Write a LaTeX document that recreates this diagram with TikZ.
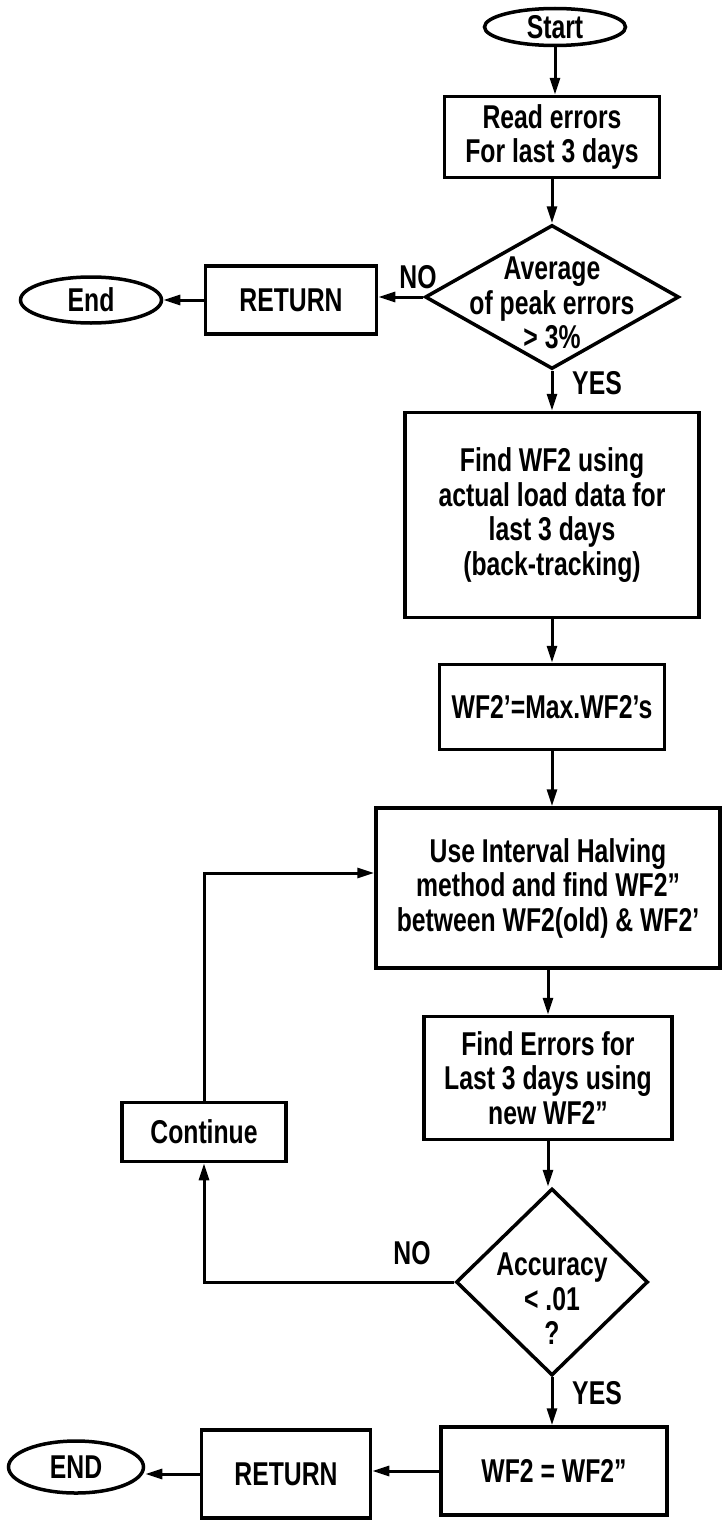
\documentclass[tikz,border=0pt]{standalone}
\usepackage{fontspec}
\setmainfont{Liberation Sans}[FakeStretch=0.75]
\usetikzlibrary{shapes.geometric,arrows.meta,calc}
\begin{document}
\begin{tikzpicture}[x=1pt,y=-1pt,
  lbl/.style={font=\fontsize{33}{34.5}\selectfont\bfseries, align=center, inner sep=0pt},
  pbox/.style={lbl, draw, rectangle, line width=3.5pt},
  term/.style={lbl, draw, ellipse, line width=3.5pt},
  dia/.style={draw, diamond, line width=3.5pt, inner sep=0pt},
  arr/.style={line width=3pt, -{Triangle[length=17pt,width=10pt]}},
  ln/.style={line width=3pt}]
\useasboundingbox (0,0) rectangle (725,1520);

% main column
\node[term, minimum width=141pt, minimum height=37pt] (start) at (555,27) {Start};
\node[pbox, minimum width=215pt, minimum height=81pt] (read) at (552,137) {Read errors\\For last 3 days};
\node[dia, minimum width=254pt, minimum height=144pt] (d1) at (552,297) {};
\node[lbl] (d1t) at (552,303) {Average\\of peak errors\\\textgreater\ 3\%};
\node[pbox, minimum width=171pt, minimum height=68pt] (ret1) at (291,300) {RETURN};
\node[term, minimum width=141pt, minimum height=46pt] (end1) at (91,300) {End};
\node[lbl] (no1) at (418,277) {NO};
\node[lbl] (yes1) at (597,383) {YES};

\node[pbox, minimum width=294pt, minimum height=205pt] (find) at (552,515) {Find WF2 using\\actual load data for\\last 3 days\\(back-tracking)};
\node[pbox, minimum width=225pt, minimum height=85pt] (wfp) at (552,707) {WF2'=Max.WF2's};
\node[pbox, minimum width=344pt, minimum height=160pt] (interval) at (548,888) {Use Interval Halving\\method and find WF2"\\between WF2(old) \& WF2'};
\node[pbox, minimum width=248pt, minimum height=123pt] (errors) at (548,1078) {Find Errors for\\Last 3 days using\\new WF2"};
\node[dia, minimum width=192pt, minimum height=187pt] (d2) at (552,1282) {};
\node[lbl] (d2t) at (552,1299) {Accuracy\\\textless\ .01\\?};
\node[lbl] (no2) at (412,1253) {NO};
\node[lbl] (yes2) at (597,1393) {YES};
\node[pbox, minimum width=226pt, minimum height=88pt] (wfeq) at (554,1471) {WF2 = WF2"};
\node[pbox, minimum width=169pt, minimum height=88pt] (ret2) at (286,1474) {RETURN};
\node[term, minimum width=135pt, minimum height=52pt] (end2) at (76,1467) {END};
\node[pbox, minimum width=164pt, minimum height=59pt] (cont) at (204,1132) {Continue};

% connectors
\draw[arr] (start.south) -- (start.south |- read.north);
\draw[arr] (read.south) -- (read.south |- d1.north);
\draw[arr] (d1.west) -- (d1.west -| ret1.east);
\draw[arr] (ret1.west) -- (ret1.west -| end1.east);
\draw[arr] (d1.south) -- (d1.south |- find.north);
\draw[arr] (find.south) -- (find.south |- wfp.north);
\draw[arr] (wfp.south) -- (wfp.south |- interval.north);
\draw[arr] (interval.south) -- (interval.south |- errors.north);
\draw[arr] (errors.south) -- (errors.south |- d2.north);
\draw[arr] (d2.south) -- (d2.south |- wfeq.north);
\draw[arr] (d2.west) -| (cont.south);
\draw[arr] (cont.north) |- ([yshift=15pt]interval.west);
\draw[arr] (wfeq.west) -- (wfeq.west -| ret2.east);
\draw[arr] (ret2.west) -- (ret2.west -| end2.east);
\end{tikzpicture}
\end{document}
